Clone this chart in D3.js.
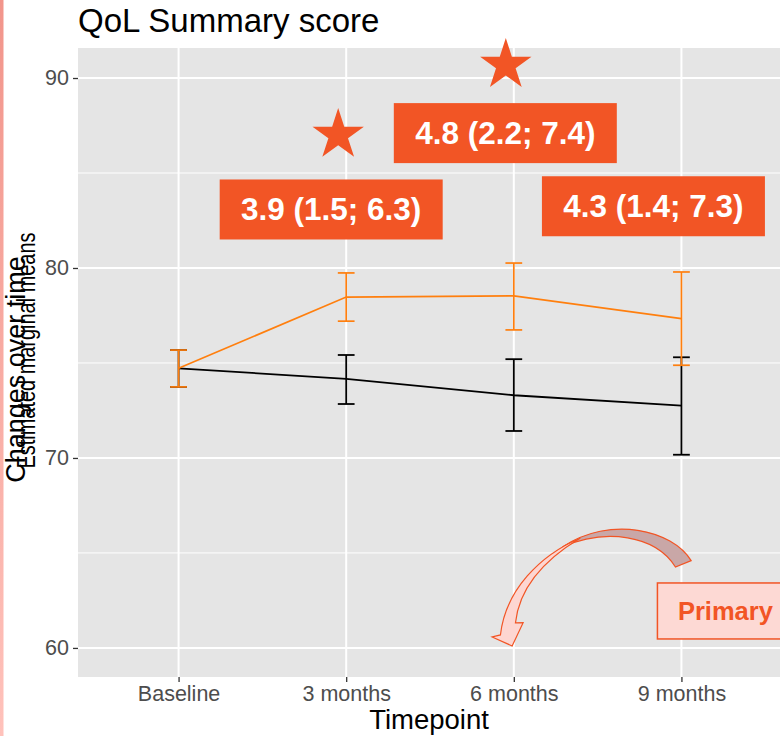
<!DOCTYPE html>
<html>
<head>
<meta charset="utf-8">
<script src="https://cdn.jsdelivr.net/npm/d3@7"></script>
<style>
  html, body { margin: 0; padding: 0; background: #ffffff; }
  svg { display: block; }
</style>
</head>
<body>
<svg id="chart" width="780" height="736"></svg>
<script>
// ---- data ----
const timepoints = ["Baseline", "3 months", "6 months", "9 months"];
const controlMean = [74.72, 74.16, 73.30, 72.75];
const controlLow  = [73.74, 72.84, 71.42, 70.17];
const controlHigh = [75.68, 75.42, 75.20, 75.30];
const interventionMean = [74.72, 78.47, 78.53, 77.33];
const interventionLow  = [73.74, 77.20, 76.74, 74.88];
const interventionHigh = [75.68, 79.74, 80.26, 79.79];
const yTicks = [60, 70, 80, 90];
const yMinorTicks = [65, 75, 85];
const diffLabels = ["3.9 (1.5; 6.3)", "4.8 (2.2; 7.4)", "4.3 (1.4; 7.3)"];
const diffAt = ["3 months", "6 months", "9 months"];
const diffLevel = [83.08, 87.10, 83.25];
const starAt = ["3 months", "6 months"];
const starLevel = [87.0, 90.68];

// ---- layout ----
const svg = d3.select("#chart");
const W = 780, H = 736;
const panel = { left: 78, right: 782, top: 48, bottom: 677 };
const orange = "#ff7f0e";
const red = "#f25525";
const font = "Liberation Sans, Arial, sans-serif";

// left pink strip
const defs = svg.append("defs");
const grad = defs.append("linearGradient").attr("id", "strip").attr("x1", 0).attr("y1", 0).attr("x2", 0).attr("y2", 1);
grad.append("stop").attr("offset", "0%").attr("stop-color", "#f2958b");
grad.append("stop").attr("offset", "100%").attr("stop-color", "#ffc2bb");
svg.append("rect").attr("x", 0).attr("y", 0).attr("width", 3.5).attr("height", H).attr("fill", "url(#strip)");

const x = d3.scalePoint().domain(timepoints).range([panel.left, panel.right]).padding(0.6);
const y = d3.scaleLinear().domain([58.47, 91.58]).range([panel.bottom, panel.top]);

// panel
svg.append("rect").attr("x", panel.left).attr("y", panel.top)
  .attr("width", panel.right - panel.left).attr("height", panel.bottom - panel.top)
  .attr("fill", "#e5e5e5");

const grid = svg.append("g");
grid.selectAll(".ymin").data(yMinorTicks).join("line")
  .attr("x1", panel.left).attr("x2", panel.right)
  .attr("y1", d => y(d)).attr("y2", d => y(d))
  .attr("stroke", "#fff").attr("stroke-width", 1);
grid.selectAll(".ymaj").data(yTicks).join("line")
  .attr("x1", panel.left).attr("x2", panel.right)
  .attr("y1", d => y(d)).attr("y2", d => y(d))
  .attr("stroke", "#fff").attr("stroke-width", 2);
grid.selectAll(".xmaj").data(timepoints).join("line")
  .attr("x1", d => x(d)).attr("x2", d => x(d))
  .attr("y1", panel.top).attr("y2", panel.bottom)
  .attr("stroke", "#fff").attr("stroke-width", 2);

// axes
const yAxis = d3.axisLeft(y).tickValues(yTicks).tickSize(5).tickPadding(4);
const gy = svg.append("g").attr("transform", `translate(${panel.left},0)`).call(yAxis);
gy.select(".domain").remove();
gy.selectAll(".tick line").attr("stroke", "#333").attr("stroke-width", 1.3);
gy.selectAll(".tick text").attr("fill", "#4d4d4d").attr("font-size", 21.5)
  .attr("font-family", font);

const xAxis = d3.axisBottom(x).tickSize(5).tickPadding(4);
const gx = svg.append("g").attr("transform", `translate(0,${panel.bottom})`).call(xAxis);
gx.select(".domain").remove();
gx.selectAll(".tick line").attr("stroke", "#333").attr("stroke-width", 1.3);
gx.selectAll(".tick text").attr("fill", "#4d4d4d").attr("font-size", 21.5)
  .attr("font-family", font);

// titles
svg.append("text").attr("x", panel.left).attr("y", 32)
  .attr("font-family", font).attr("font-size", 33)
  .attr("fill", "#000").text("QoL Summary score");

svg.append("text").attr("x", (panel.left + 782) / 2 - 1).attr("y", 729)
  .attr("text-anchor", "middle")
  .attr("font-family", font).attr("font-size", 27.5)
  .attr("fill", "#000").text("Timepoint");

const midY = (panel.top + panel.bottom) / 2;
svg.append("text").attr("transform", `translate(25,${midY + 7}) rotate(-90)`)
  .attr("text-anchor", "middle")
  .attr("font-family", font).attr("font-size", 27)
  .attr("fill", "#000").text("Changes over time");
svg.append("text").attr("transform", `translate(35,${midY - 12}) rotate(-90)`)
  .attr("text-anchor", "middle")
  .attr("font-family", font).attr("font-size", 25)
  .attr("textLength", 236).attr("lengthAdjust", "spacingAndGlyphs")
  .attr("fill", "#000").text("Estimated marginal means");

// series
function drawSeries(mean, low, high, color, width) {
  const pts = timepoints.map((t, i) => ({ t, m: mean[i], lo: low[i], hi: high[i] }));
  const g = svg.append("g");
  g.append("path").datum(pts)
    .attr("d", d3.line().x(d => x(d.t)).y(d => y(d.m)))
    .attr("fill", "none").attr("stroke", color).attr("stroke-width", width);
  const cap = x.step() * 0.05;
  const eb = g.selectAll(".eb").data(pts).join("g");
  eb.append("line").attr("x1", d => x(d.t)).attr("x2", d => x(d.t))
    .attr("y1", d => y(d.lo)).attr("y2", d => y(d.hi))
    .attr("stroke", color).attr("stroke-width", width);
  eb.append("line").attr("x1", d => x(d.t) - cap).attr("x2", d => x(d.t) + cap)
    .attr("y1", d => y(d.lo)).attr("y2", d => y(d.lo))
    .attr("stroke", color).attr("stroke-width", width);
  eb.append("line").attr("x1", d => x(d.t) - cap).attr("x2", d => x(d.t) + cap)
    .attr("y1", d => y(d.hi)).attr("y2", d => y(d.hi))
    .attr("stroke", color).attr("stroke-width", width);
}
drawSeries(controlMean, controlLow, controlHigh, "#000", 1.8);
drawSeries(interventionMean, interventionLow, interventionHigh, orange, 1.7);

// stars
const starPath = (cx, cy, R) => {
  const r = R * 0.382;
  const p = [];
  for (let i = 0; i < 10; i++) {
    const a = -Math.PI / 2 + i * Math.PI / 5;
    const rr = i % 2 === 0 ? R : r;
    p.push([cx + rr * Math.cos(a), cy + rr * Math.sin(a)]);
  }
  return "M" + p.map(q => q.join(",")).join("L") + "Z";
};
starAt.forEach((t, i) => {
  svg.append("path").attr("d", starPath(x(t) - 8, y(starLevel[i]), 27)).attr("fill", red);
});

// difference labels
const boxOffsets = [-15, -8.5, -28];
diffAt.forEach((t, i) => {
  const cx = x(t) + boxOffsets[i], cy = y(diffLevel[i]);
  svg.append("rect").attr("x", cx - 111.5).attr("y", cy - 30).attr("width", 223).attr("height", 60)
    .attr("fill", red);
  svg.append("text").attr("x", cx).attr("y", cy + 11)
    .attr("text-anchor", "middle").attr("font-family", font)
    .attr("font-weight", "bold").attr("font-size", 31.5).attr("fill", "#fff").text(diffLabels[i]);
});

// curved arrow (annotation)
const ax = x("9 months"), ay = y(65);
const P = (dx, dy) => `${ax + dx},${ay + dy}`;
svg.append("path")
  .attr("d", `M${P(9.7, 7.7)} C${P(-9, -23)} ${P(-71, -38)} ${P(-119, -6)} C${P(-76, -25)} ${P(-26, -18)} ${P(-6, 14)} Z`)
  .attr("fill", "#c9a7a7").attr("stroke", red).attr("stroke-width", 1.2);
svg.append("path")
  .attr("d", `M${P(-101, -15)} C${P(-141, 2)} ${P(-176, 37)} ${P(-181, 82)} L${P(-189.3, 84)} L${P(-169.3, 93)} L${P(-158.3, 69.7)} L${P(-166, 70)} C${P(-163, 42)} ${P(-146, 12)} ${P(-101, -15)} Z`)
  .attr("fill", "#fdd6d1").attr("stroke", red).attr("stroke-width", 1.2);

// Primary box
const bx = x("9 months") - 24, by = y(63.42);
svg.append("rect").attr("x", bx).attr("y", by).attr("width", 140).attr("height", 56)
  .attr("fill", "#fdd9d4").attr("stroke", red).attr("stroke-width", 1.5);
svg.append("text").attr("x", bx + 20.5).attr("y", by + 37.5)
  .attr("font-family", font).attr("font-weight", "bold")
  .attr("font-size", 25.5).attr("fill", red).text("Primary");
</script>
</body>
</html>
